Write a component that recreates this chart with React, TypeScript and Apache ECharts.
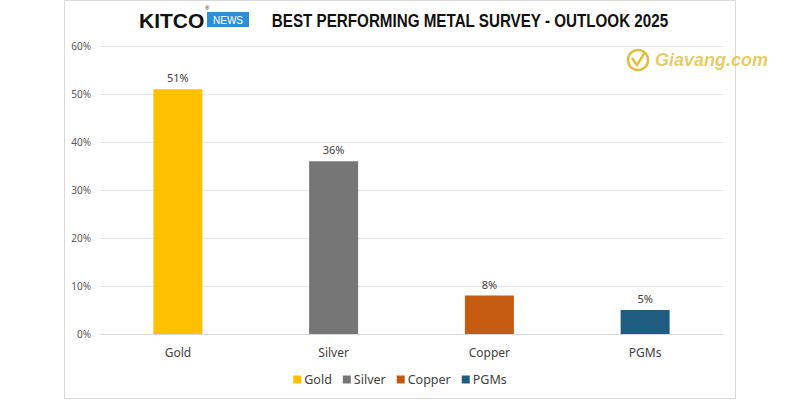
import React, { useEffect, useRef } from "react";
import * as echarts from "echarts";

const categories = ["Gold", "Silver", "Copper", "PGMs"];
const values = [51, 36, 8, 5];
const colors = ["#FFC000", "#767676", "#C55A11", "#1F5C80"];
const yTicks = [0, 10, 20, 30, 40, 50, 60];

export default function App() {
  const ref = useRef<HTMLDivElement>(null);
  useEffect(() => {
    const chart = echarts.init(ref.current!, null, { renderer: "svg" });
    const series = categories.map((name, i) => ({
      name,
      type: "bar",
      stack: "all",
      barWidth: 49,
      itemStyle: { color: colors[i] },
      label: {
        show: true,
        position: "top",
        distance: 6,
        formatter: "{c}%",
        color: "#404040",
        fontSize: 11,
        fontFamily: "Noto Sans",
      },
      data: categories.map((_, j) => (j === i ? values[i] : null)),
    }));
    chart.setOption({
      animation: false,
      backgroundColor: "#ffffff",
      grid: { left: 100, right: 77, top: 46, bottom: 66, containLabel: false },
      xAxis: {
        type: "category",
        data: categories,
        axisLine: { show: true, lineStyle: { color: "#d9d9d9" } },
        axisTick: { show: false },
        axisLabel: { color: "#404040", fontSize: 12, fontFamily: "Noto Sans", margin: 12 },
      },
      yAxis: {
        type: "value",
        min: yTicks[0],
        max: yTicks[yTicks.length - 1],
        interval: 10,
        axisLine: { show: false },
        axisTick: { show: false },
        splitLine: { lineStyle: { color: "#e6e6e6" } },
        axisLabel: { formatter: "{value}%", color: "#595959", fontSize: 10, fontFamily: "Noto Sans", margin: 9 },
      },
      legend: {
        bottom: 9,
        left: "center",
        itemWidth: 8,
        itemHeight: 8,
        itemGap: 11,
        icon: "rect",
        textStyle: { color: "#404040", fontSize: 12.5, fontFamily: "Noto Sans", padding: [0, 0, 0, -2] },
        data: categories,
      },
      graphic: [
        {
          type: "rect",
          shape: { x: 64.5, y: 0.5, width: 671, height: 398 },
          style: { fill: "none", stroke: "#d9d9d9", lineWidth: 1 },
          silent: true,
        },
        {
          type: "text",
          x: 139,
          y: 10,
          style: { text: "KITCO", font: "bold 21px 'Liberation Sans'", fill: "#111111" },
        },
        {
          type: "text",
          x: 205,
          y: 5,
          style: { text: "®", font: "6px 'Liberation Sans'", fill: "#111111" },
        },
        {
          type: "rect",
          shape: { x: 207, y: 12, width: 42, height: 15 },
          style: { fill: "#2E8FD8" },
        },
        {
          type: "text",
          x: 228,
          y: 20,
          style: { text: "NEWS", font: "10px 'Liberation Sans'", fill: "#ffffff", align: "center", verticalAlign: "middle" },
        },
        {
          type: "text",
          x: 470,
          y: 20,
          scaleX: 0.8,
          style: {
            text: "BEST PERFORMING METAL SURVEY - OUTLOOK 2025",
            font: "bold 19px 'Liberation Sans'",
            fill: "#111111",
            align: "center",
            verticalAlign: "middle",
          },
        },
        {
          type: "circle",
          shape: { cx: 638, cy: 60, r: 10 },
          style: { fill: "none", stroke: "#E0BE3C", lineWidth: 2.5 },
        },
        {
          type: "polyline",
          shape: { points: [[632, 58], [637, 65], [645, 52]] },
          style: { stroke: "#E0BE3C", lineWidth: 2.5, fill: "none" },
        },
        {
          type: "text",
          x: 655,
          y: 60,
          style: {
            text: "Giavang.com",
            font: "italic bold 18px 'Liberation Sans'",
            fill: "#E2C348",
            verticalAlign: "middle",
            opacity: 0.85,
          },
        },
      ],
      series,
    });
    return () => chart.dispose();
  }, []);
  return (
    <div
      ref={ref}
      style={{ position: "fixed", left: 0, top: 0, width: 800, height: 400 }}
    />
  );
}
